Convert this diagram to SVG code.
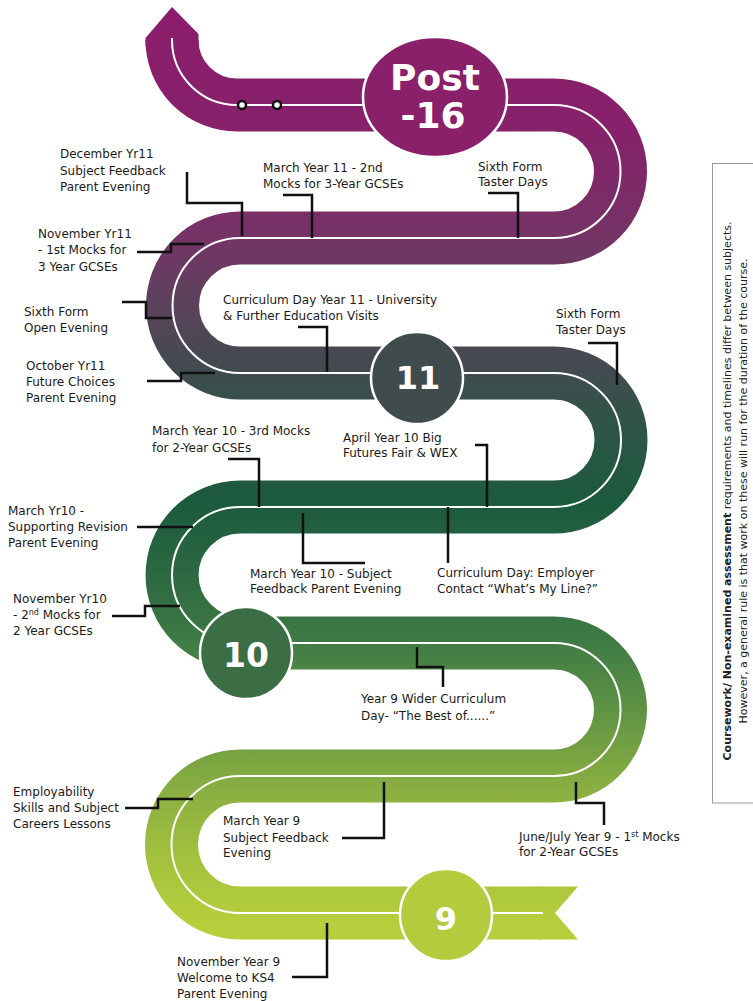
<svg xmlns="http://www.w3.org/2000/svg" width="753" height="1001" viewBox="0 0 753 1001">
<defs>
<linearGradient id="g" gradientUnits="userSpaceOnUse" x1="0" y1="0" x2="0" y2="1001">
<stop offset="0" stop-color="#8c1d6c"/>
<stop offset="0.13" stop-color="#86216a"/>
<stop offset="0.24" stop-color="#743466"/>
<stop offset="0.30" stop-color="#5d425c"/>
<stop offset="0.37" stop-color="#414b4f"/>
<stop offset="0.42" stop-color="#305448"/>
<stop offset="0.50" stop-color="#1c5a3e"/>
<stop offset="0.57" stop-color="#2b6741"/>
<stop offset="0.64" stop-color="#3f7b44"/>
<stop offset="0.70" stop-color="#5a9044"/>
<stop offset="0.78" stop-color="#86ac42"/>
<stop offset="0.86" stop-color="#a4c23e"/>
<stop offset="0.92" stop-color="#b6ce3c"/>
<stop offset="1" stop-color="#bcd23c"/>
</linearGradient>
<style>
.lbl{font-family:"DejaVu Sans",sans-serif;font-size:12px;fill:#1a1a1a}
.con{fill:none;stroke:#111;stroke-width:2.5;stroke-linejoin:miter;stroke-linecap:butt}
.num{font-family:"DejaVu Sans",sans-serif;font-weight:bold;fill:#fff;text-anchor:middle}
.ring{stroke:#fff;stroke-width:2.5}
.note{font-family:"DejaVu Sans",sans-serif;font-size:11px;fill:#222;text-anchor:middle}
</style>
</defs>

<g id="track">
<path d="M172,40 A65,65 0 0 0 237,105 L554,105 A66.5,66.5 0 0 1 554,238 L240,238 A67.5,67.5 0 0 0 240,373 L554,373 A67,67 0 0 1 554,507 L240,507 A68,68 0 0 0 240,643 L554,643 A66.5,66.5 0 0 1 554,776 L240,776 A68.5,68.5 0 0 0 240,913 L541,913" fill="none" stroke="url(#g)" stroke-width="53"/>
<polygon points="145.5,38 172,7 198.5,34 198.5,46 145.5,46" fill="url(#g)"/>
<polygon points="539,886.5 578,886.5 555,913 578,939.5 539,939.5" fill="url(#g)"/>
<path d="M172,38 L172,40 A65,65 0 0 0 237,105 L554,105 A66.5,66.5 0 0 1 554,238 L240,238 A67.5,67.5 0 0 0 240,373 L554,373 A67,67 0 0 1 554,507 L240,507 A68,68 0 0 0 240,643 L554,643 A66.5,66.5 0 0 1 554,776 L240,776 A68.5,68.5 0 0 0 240,913 L543,913" fill="none" stroke="#fff" stroke-width="2"/>
<circle cx="242" cy="105" r="4" fill="#fff" stroke="#111" stroke-width="2.5"/>
<circle cx="277" cy="105" r="4" fill="#fff" stroke="#111" stroke-width="2.5"/>
</g>

<g id="stage-post16">
<ellipse cx="435" cy="97" rx="72" ry="60" fill="#8a1f6a" class="ring"/>
<text class="num" x="435" y="90" font-size="36">Post</text>
<text class="num" x="433" y="128" font-size="36">-16</text>
</g>
<g id="stage-11">
<circle cx="417" cy="378" r="46" fill="#3f4b4d" class="ring"/>
<text class="num" x="418" y="389" font-size="32">11</text>
</g>
<g id="stage-10">
<circle cx="246" cy="653" r="46" fill="#3b6e44" class="ring"/>
<text class="num" x="246" y="667" font-size="33">10</text>
</g>
<g id="stage-9">
<circle cx="446" cy="915" r="46" fill="#b3cc3d" class="ring"/>
<text class="num" x="446" y="930" font-size="32">9</text>
</g>

<g id="connectors">
<polyline class="con" points="187,172 187,203 242,203 242,236"/>
<polyline class="con" points="283,195 312,195 312,238"/>
<polyline class="con" points="488,193 518,193 518,238"/>
<polyline class="con" points="137,252 171,252 171,244 204,244"/>
<polyline class="con" points="122,302 146,302 146,318 172,318"/>
<polyline class="con" points="298,327 327,327 327,372"/>
<polyline class="con" points="147,381 181,381 181,373 215,373"/>
<polyline class="con" points="228,459 259,459 259,507"/>
<polyline class="con" points="588,343 617,343 617,385"/>
<polyline class="con" points="475,445 487,445 487,507"/>
<polyline class="con" points="137,527 193,527"/>
<polyline class="con" points="303,513 303,563 365,563"/>
<polyline class="con" points="448,507 448,563"/>
<polyline class="con" points="112,616 145,616 145,606 180,606"/>
<polyline class="con" points="417,647 417,667 443,667 443,687"/>
<polyline class="con" points="125,808 158,808 158,799 193,799"/>
<polyline class="con" points="342,838 384,838 384,782"/>
<polyline class="con" points="576,782 576,803 604,803 604,825"/>
<polyline class="con" points="292,977 327,977 327,923"/>
</g>

<g id="labels">
<g id="l-dec11"><text class="lbl" x="60" y="158">December Yr11</text><text class="lbl" x="60" y="175">Subject Feedback</text><text class="lbl" x="60" y="191">Parent Evening</text></g>
<g id="l-mar11"><text class="lbl" x="263" y="172">March Year 11 - 2nd</text><text class="lbl" x="263" y="188">Mocks for 3-Year GCSEs</text></g>
<g id="l-taster1"><text class="lbl" x="478" y="171">Sixth Form</text><text class="lbl" x="478" y="186">Taster Days</text></g>
<g id="l-nov11"><text class="lbl" x="38" y="238">November Yr11</text><text class="lbl" x="38" y="254">- 1st Mocks for</text><text class="lbl" x="38" y="271">3 Year GCSEs</text></g>
<g id="l-open"><text class="lbl" x="24" y="316">Sixth Form</text><text class="lbl" x="24" y="332">Open Evening</text></g>
<g id="l-cd11"><text class="lbl" x="223" y="304">Curriculum Day Year 11 - University</text><text class="lbl" x="223" y="320">&amp; Further Education Visits</text></g>
<g id="l-oct11"><text class="lbl" x="26" y="370">October Yr11</text><text class="lbl" x="26" y="386">Future Choices</text><text class="lbl" x="26" y="402">Parent Evening</text></g>
<g id="l-taster2"><text class="lbl" x="556" y="318">Sixth Form</text><text class="lbl" x="556" y="334">Taster Days</text></g>
<g id="l-mar10a"><text class="lbl" x="152" y="435">March Year 10 - 3rd Mocks</text><text class="lbl" x="152" y="452">for 2-Year GCSEs</text></g>
<g id="l-apr10"><text class="lbl" x="343" y="442">April Year 10 Big</text><text class="lbl" x="343" y="457">Futures Fair &amp; WEX</text></g>
<g id="l-mar10b"><text class="lbl" x="8" y="515">March Yr10 -</text><text class="lbl" x="8" y="531">Supporting Revision</text><text class="lbl" x="8" y="547">Parent Evening</text></g>
<g id="l-mar10c"><text class="lbl" x="250" y="578">March Year 10 - Subject</text><text class="lbl" x="250" y="593">Feedback Parent Evening</text></g>
<g id="l-cdemp"><text class="lbl" x="437" y="577">Curriculum Day: Employer</text><text class="lbl" x="437" y="593">Contact “What’s My Line?”</text></g>
<g id="l-nov10"><text class="lbl" x="13" y="603">November Yr10</text><text class="lbl" x="13" y="619">- 2<tspan font-size="8" baseline-shift="super">nd</tspan> Mocks for</text><text class="lbl" x="13" y="635">2 Year GCSEs</text></g>
<g id="l-y9wc"><text class="lbl" x="361" y="703">Year 9 Wider Curriculum</text><text class="lbl" x="361" y="720">Day- “The Best of......”</text></g>
<g id="l-employ"><text class="lbl" x="13" y="796">Employability</text><text class="lbl" x="13" y="812">Skills and Subject</text><text class="lbl" x="13" y="828">Careers Lessons</text></g>
<g id="l-mar9"><text class="lbl" x="223" y="825">March Year 9</text><text class="lbl" x="223" y="842">Subject Feedback</text><text class="lbl" x="223" y="857">Evening</text></g>
<g id="l-jun9"><text class="lbl" x="519" y="841">June/July Year 9 - 1<tspan font-size="8" baseline-shift="super">st</tspan> Mocks</text><text class="lbl" x="519" y="856">for 2-Year GCSEs</text></g>
<g id="l-nov9"><text class="lbl" x="177" y="966">November Year 9</text><text class="lbl" x="177" y="982">Welcome to KS4</text><text class="lbl" x="177" y="998">Parent Evening</text></g>
</g>

<g id="note">
<rect x="712.5" y="163.5" width="60" height="639.5" fill="#fff" stroke="#999" stroke-width="1"/>
<text class="note" transform="translate(731,491) rotate(-90)"><tspan font-weight="bold">Coursework/ Non-examined assessment</tspan> requirements and timelines differ between subjects.</text>
<text class="note" transform="translate(747,491) rotate(-90)">However, a general rule is that work on these will run for the duration of the course.</text>
</g>
</svg>
